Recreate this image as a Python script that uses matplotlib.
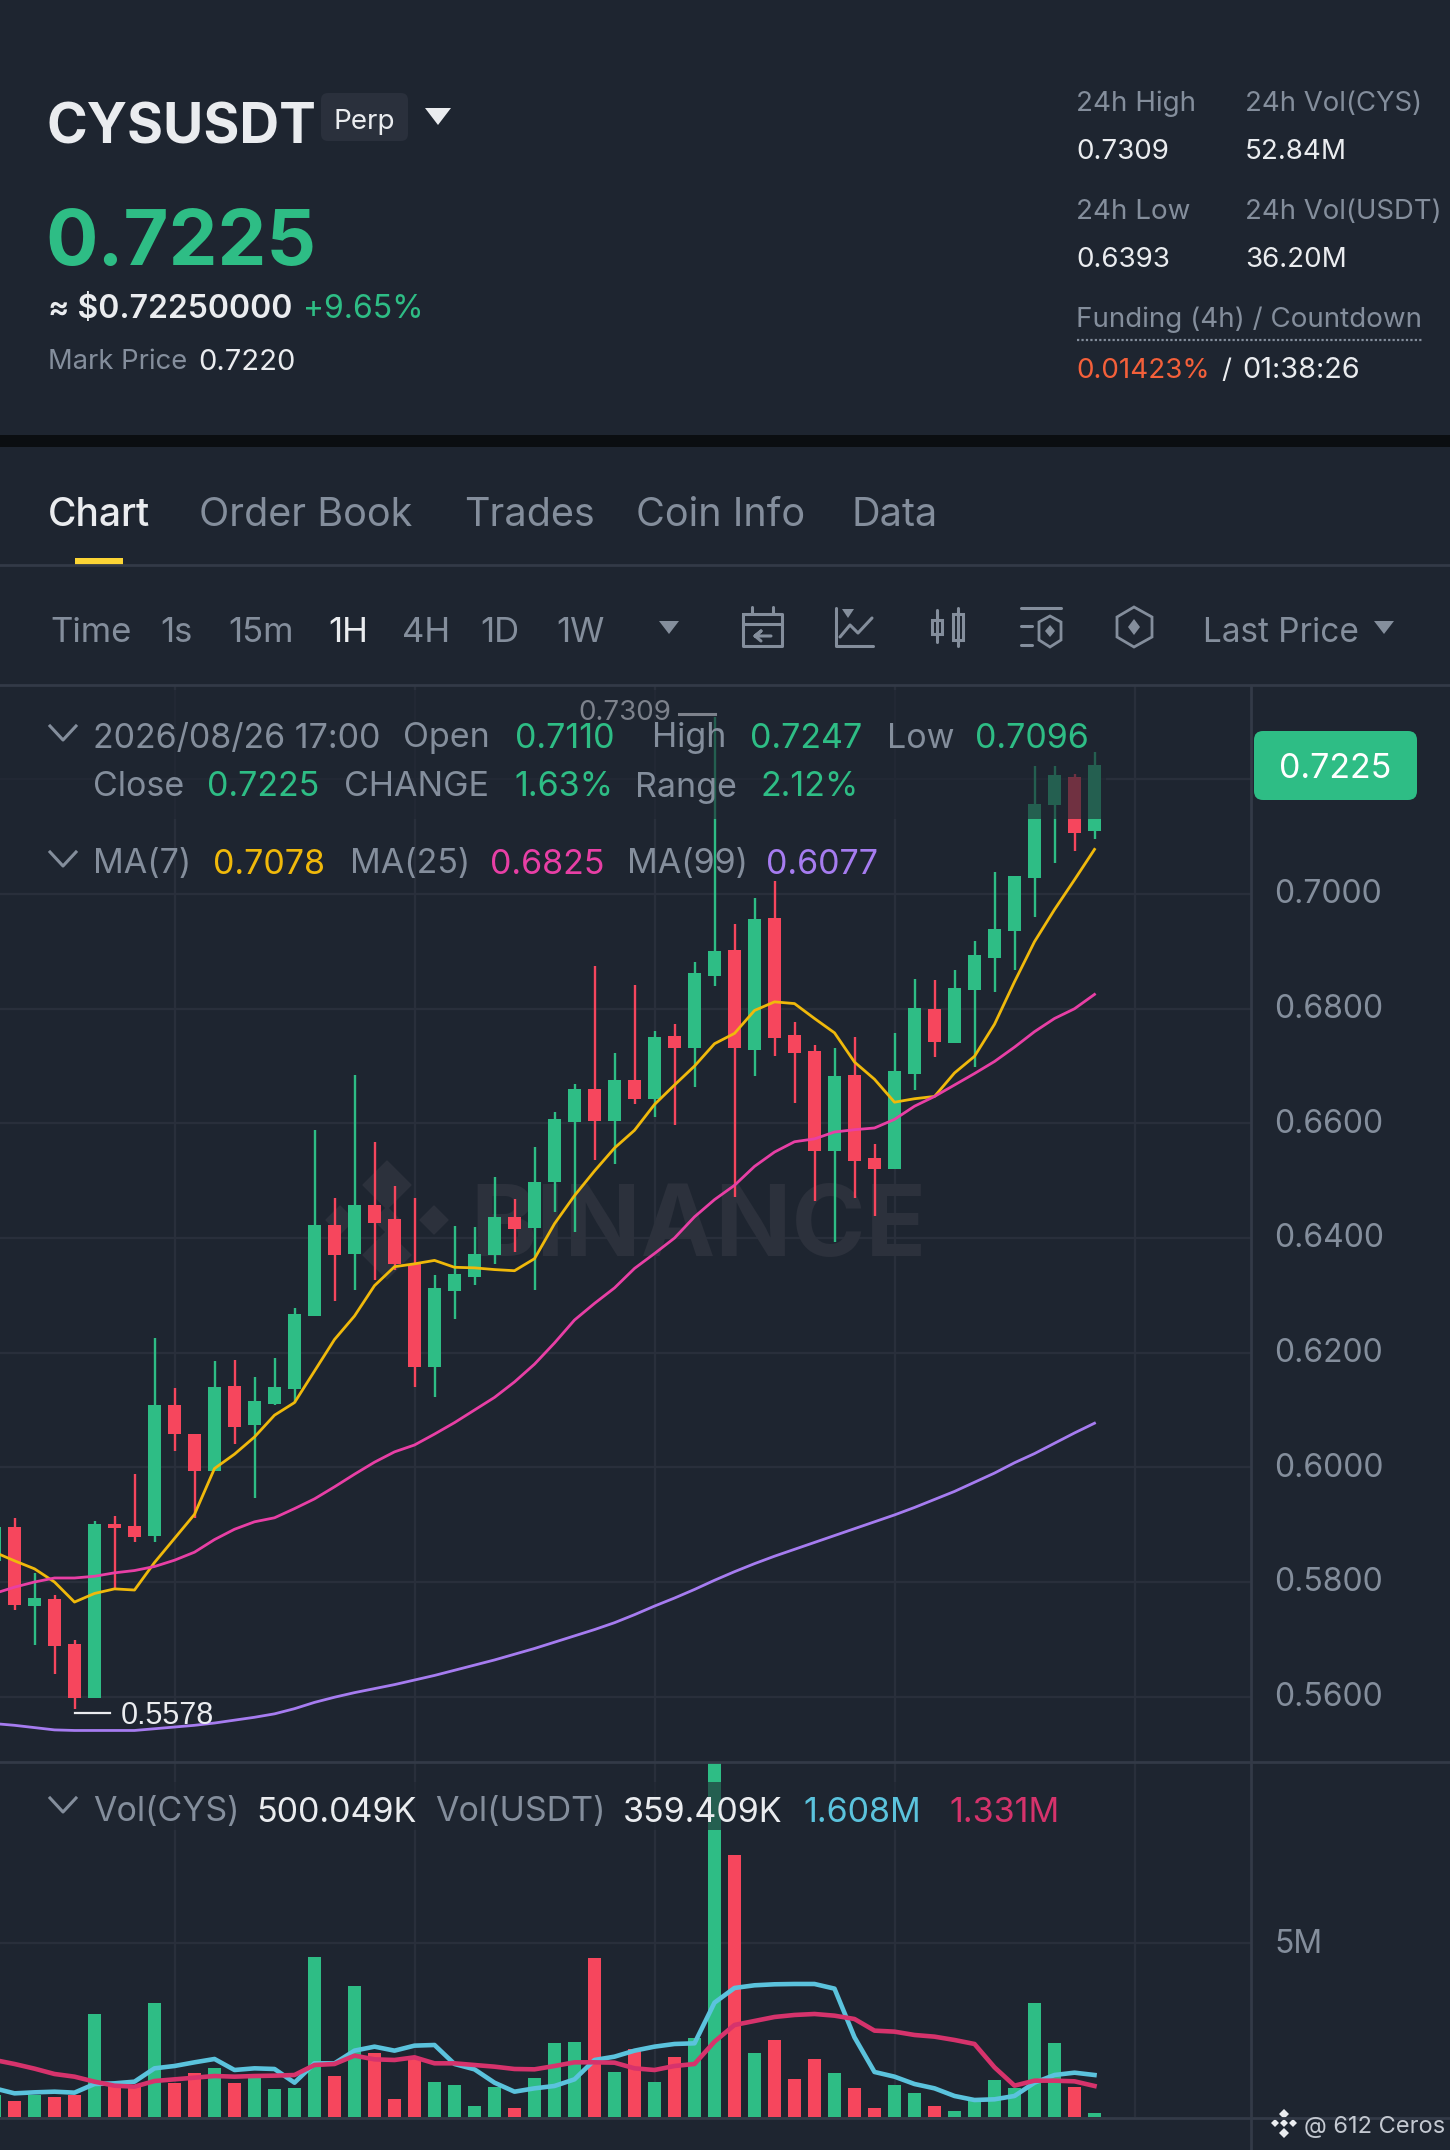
import numpy as np
import matplotlib
matplotlib.use("Agg")
import matplotlib.pyplot as plt
from matplotlib.patches import Polygon, Rectangle, FancyBboxPatch
from matplotlib.transforms import ScaledTranslation

plt.rcParams['font.family'] = ['Inter', 'DejaVu Sans']

# candles, oldest first (the first one is cut by the left edge)
opens = [.5837, .5896, .5758, .5770, .5692, .5597, .5902, .5898, .5880, .6108, .6059, .5993, .6142, .6073,
         .6111, .6137, .6264, .6422, .6372, .6458, .6433, .6354, .6175, .6308, .6332, .6371, .6436, .6417,
         .6497, .6602, .6660, .6605, .6676, .6643, .6753, .6732, .6857, .6903, .6728, .6958, .6754, .6727,
         .6552, .6684, .6540, .6521, .6686, .6799, .6741, .6832, .6889, .6936, .7028, .7155, .7205, .7110]
closes = [.5896, .5760, .5772, .5688, .5597, .5901, .5894, .5878, .6108, .6058, .5994, .6141, .6071, .6115,
          .6141, .6268, .6422, .6371, .6458, .6427, .6354, .6175, .6312, .6338, .6373, .6436, .6415, .6498,
          .6607, .6660, .6605, .6675, .6642, .6751, .6732, .6863, .6901, .6732, .6957, .6749, .6723, .6552,
          .6683, .6535, .6521, .6691, .6801, .6742, .6837, .6893, .6939, .7032, .7157, .7207, .7107, .7225]
highs = [.5898, .5911, .5815, .5777, .5699, .5906, .5916, .5988, .6225, .6138, .6059, .6185, .6187, .6157,
         .6190, .6278, .6589, .6470, .6684, .6568, .6490, .6469, .6335, .6421, .6419, .6506, .6468, .6558,
         .6620, .6668, .6875, .6722, .6841, .6761, .6773, .6881, .7309, .6948, .6993, .7022, .6777, .6737,
         .6731, .6750, .6564, .6757, .6852, .6850, .6868, .6918, .7038, .7032, .7224, .7223, .7209, .7247]
lows = [.5834, .5752, .5690, .5639, .5578, .5597, .5788, .5870, .5870, .6028, .5911, .5993, .6040, .5946,
        .6109, .6113, .6264, .6290, .6310, .6327, .6345, .6140, .6122, .6258, .6318, .6354, .6376, .6310,
        .6445, .6411, .6536, .6530, .6633, .6611, .6597, .6663, .6840, .6471, .6683, .6718, .6635, .6465,
        .6393, .6469, .6439, .6521, .6658, .6715, .6741, .6699, .6829, .6867, .6960, .7055, .7075, .7096]

ma7 = [.5852, .5837, .5823, .5800, .5765, .5780, .5788, .5786, .5834, .5876, .5918, .5998, .6023, .6053,
       .6091, .6113, .6168, .6223, .6264, .6317, .6350, .6355, .6361, .6349, .6348, .6345, .6343, .6364,
       .6425, .6474, .6517, .6557, .6588, .6633, .6667, .6700, .6739, .6757, .6797, .6812, .6809, .6783,
       .6758, .6707, .6677, .6637, .6643, .6647, .6688, .6717, .6773, .6847, .6917, .6973, .7025, .7078]
ma25 = [.5780, .5791, .5800, .5807, .5807, .5810, .5816, .5820, .5827, .5838, .5852, .5874, .5892, .5905,
        .5912, .5928, .5945, .5966, .5988, .6009, .6027, .6039, .6058, .6078, .6100, .6122, .6149, .6180,
        .6217, .6257, .6286, .6313, .6347, .6373, .6400, .6437, .6467, .6492, .6525, .6550, .6568, .6573,
        .6585, .6589, .6592, .6607, .6630, .6647, .6667, .6687, .6708, .6733, .6760, .6783, .6800, .6825]
ma99 = [.5553, .5550, .5546, .5542, .5541, .5541, .5541, .5541, .5544, .5547, .5550, .5554, .5559, .5564,
        .5570, .5579, .5590, .5599, .5607, .5614, .5621, .5629, .5637, .5646, .5655, .5664, .5674, .5684,
        .5695, .5706, .5717, .5729, .5743, .5758, .5772, .5787, .5803, .5818, .5832, .5845, .5857, .5869,
        .5881, .5893, .5905, .5917, .5930, .5944, .5958, .5974, .5990, .6008, .6024, .6042, .6060, .6077]

# volume in millions
volume = [.633, .451, .633, .585, .633, 2.956, .921, .873, 3.273, .988, 1.257, 1.401, .969, 1.113,
          .797, .845, 4.597, 1.180, 3.781, 1.852, .509, 1.737, 1.008, .912, .326, .864, .259, 1.132,
          2.121, 2.150, 4.568, 1.305, 1.950, 1.017, 1.718, 2.265, 10.30, 7.534, 1.843, 2.217, 1.084, 1.670,
          1.257, .845, .250, .921, .691, .307, .173, .537, 1.065, .845, 3.273, 2.130, .854, .106]
vol_ma_fast = [.825, .681, .710, .729, .701, .950, .969, 1.017, 1.401, 1.468, 1.574, 1.670, 1.353, 1.401,
               1.382, .988, 1.545, 1.545, 1.910, 2.025, 1.910, 2.054, 2.073, 1.526, 1.372, .988, .729, .825,
               .893, 1.084, 1.641, 1.737, 1.910, 2.025, 2.102, 2.121, 3.292, 3.714, 3.791, 3.820, 3.829, 3.829,
               3.695, 2.294, 1.296, 1.161, .950, .825, .605, .489, .509, .605, .988, 1.209, 1.276, 1.209]
vol_ma_slow = [1.641, 1.526, 1.392, 1.238, 1.161, 1.017, .902, .873, 1.036, 1.084, 1.132, 1.180, 1.161, 1.180,
               1.190, 1.209, 1.497, 1.526, 1.766, 1.660, 1.641, 1.718, 1.545, 1.545, 1.497, 1.449, 1.382, 1.372,
               1.468, 1.574, 1.574, 1.564, 1.401, 1.353, 1.468, 1.526, 2.169, 2.649, 2.764, 2.879, 2.937, 2.965,
               2.917, 2.821, 2.486, 2.457, 2.361, 2.313, 2.217, 2.102, 1.430, .902, 1.046, 1.046, 1.027, .893]

price_ticks = [.56, .58, .60, .62, .64, .66, .68, .70, .72]
price_tick_labels = ['0.5600', '0.5800', '0.6000', '0.6200', '0.6400', '0.6600', '0.6800', '0.7000', '']
time_ticks = [9, 21, 33, 45, 57]

BG = '#1E2530'
GRID = '#292F3B'
EDGE = '#333A47'
UP = '#2EBD85'
DOWN = '#F6465D'
GRAY = '#848E9C'
WHITE = '#EAECEF'

W, H = 1450, 2150
fig = plt.figure(figsize=(W / 100, H / 100), dpi=100, facecolor=BG)


def pane(top, bottom):
    a = fig.add_axes([0, 1 - bottom / H, 1252 / W, (bottom - top) / H], facecolor=BG)
    for s in a.spines.values():
        s.set_visible(False)
    a.yaxis.tick_right()
    a.tick_params(length=0, labelbottom=False, labelright=True, pad=16, labelsize=23, labelcolor=GRAY)
    a.set_xticks(time_ticks)
    a.set_xlim(0.275, 62.875)
    a.grid(True, color=GRID, lw=1.6)
    a.set_axisbelow(True)
    return a


def lift_labels(a):
    # right-hand labels sit a little above their gridline
    nudge = ScaledTranslation(0, 2 / 72, fig.dpi_scale_trans)
    for tick in a.yaxis.get_major_ticks():
        tick.label2.set_transform(tick.label2.get_transform() + nudge)


x = np.arange(len(opens))
up = np.array(closes) >= np.array(opens)
colors = [UP if u else DOWN for u in up]
width = 0.69

# price pane
ax = pane(686, 1762)
ax.set_ylim(0.5486, 0.7363)
ax.set_yticks(price_ticks, price_tick_labels)
lift_labels(ax)
ax.vlines(x, lows, highs, colors=colors, lw=1.7, zorder=3)
ax.bar(x, np.abs(np.array(closes) - np.array(opens)), width, np.minimum(opens, closes), color=colors, zorder=3)
ax.plot(x, ma7, color='#F0B90B', lw=2, zorder=4)
ax.plot(x, ma25, color='#E83FA5', lw=2, zorder=4)
ax.plot(x, ma99, color='#A67CF0', lw=2, zorder=4)

# low marker
ax.plot([x[4], x[4] + 1.75], [.5572, .5572], color=WHITE, lw=1.6, zorder=5)
ax.text(x[4] + 2.3, .5572, '0.5578', color=WHITE, fontsize=22, va='center_baseline', zorder=5,
        family=['Liberation Sans', 'DejaVu Sans'])

# volume pane
vax = pane(1763, 2117)
vax.set_ylim(0, 10.19)
vax.set_yticks([5], ['5M'])
lift_labels(vax)
vax.bar(x, volume, width, color=colors, zorder=3)
vax.plot(x, vol_ma_fast, color='#5BC3DD', lw=3.3, zorder=4)
vax.plot(x, vol_ma_slow, color='#D6336C', lw=3.3, zorder=4)

# overlay in image pixels for the page furniture
ui = fig.add_axes([0, 0, 1, 1], zorder=10)
ui.set_xlim(0, W)
ui.set_ylim(H, 0)
ui.axis('off')

# watermark sits behind the candles
ax.text(470, 1256, 'BINANCE', color='#2C313C', fontsize=72, fontweight='bold', transform=ui.transData, zorder=1)
for cx, cy, r in [(387, 1185, 24), (387, 1255, 24), (340, 1220, 14), (434, 1220, 14), (387, 1220, 13)]:
    ax.add_patch(Polygon([(cx - r, cy), (cx, cy - r), (cx + r, cy), (cx, cy + r)], color='#2C313C',
                         transform=ui.transData, zorder=1))


def label(px, py, s, color=GRAY, size=24.5, **kw):
    ui.text(px, py, s, color=color, fontsize=size, va='center_baseline', **kw)


def tri(cx, top, half, tall, color):
    ui.add_patch(Polygon([(cx - half, top), (cx + half, top), (cx, top + tall)], color=color, lw=0))


def chevron(cy):
    ui.plot([50, 63, 76], [cy - 7, cy + 7, cy - 7], color=GRAY, lw=2.2)


# legend veils dim whatever is underneath
ui.add_patch(Rectangle((0, 690), 1106, 129, color=BG, alpha=.62, lw=0))
ui.add_patch(Rectangle((0, 1782), 1106, 48, color=BG, alpha=.62, lw=0))

# high marker, on top of the veil
ui.plot([x[36] - 1.8, x[36]], [.7314, .7314], color='#7D828C', lw=2.2, transform=ax.transData)
ui.text(x[36] - 2.15, .7321, '0.7309', color='#7D828C', fontsize=20, ha='right', va='center_baseline',
        transform=ax.transData)

# header
label(47, 123, 'CYSUSDT', WHITE, 39.7, fontweight='bold')
ui.add_patch(FancyBboxPatch((325, 97), 79, 40, boxstyle='round,pad=4,rounding_size=7', color='#2A303C', lw=0))
label(334, 119, 'Perp', WHITE, 20)
tri(438, 108, 13, 17, WHITE)
label(45, 236, '0.7225', UP, 56, fontweight='bold')
label(48, 306, '≈ $0.72250000', WHITE, 23, fontweight='semibold')
label(303, 306, '+9.65%', UP, 23)
label(48, 359, 'Mark Price', GRAY, 19.7)
label(198, 359, '0.7220', WHITE, 21)

label(1076, 101, '24h High', GRAY, 20)
label(1245, 101, '24h Vol(CYS)', GRAY, 19.8)
label(1076, 149, '0.7309', WHITE, 20)
label(1245, 149, '52.84M', WHITE, 20)
label(1076, 209, '24h Low', GRAY, 20)
label(1245, 209, '24h Vol(USDT)', GRAY, 19.8)
label(1076, 257, '0.6393', WHITE, 20)
label(1245, 257, '36.20M', WHITE, 20)
label(1076, 317, 'Funding (4h) / Countdown', GRAY, 20)
ui.plot([1077, 1423], [340, 340], color=GRAY, lw=1.6, ls=(0, (1, 1)))
label(1076, 368, '0.01423%', '#F4603A', 20)
label(1221, 368, '/', WHITE, 20)
label(1242, 368, '01:38:26', WHITE, 20.8)

ui.add_patch(Rectangle((0, 435), W, 12, color='#0B0E11', lw=0))

# tabs
label(48, 512, 'Chart', WHITE, 28, fontweight='medium')
for px, s in [(199, 'Order Book'), (464, 'Trades'), (636, 'Coin Info'), (852, 'Data')]:
    label(px, 512, s, GRAY, 28.5)
ui.plot([0, W], [565, 565], color=EDGE, lw=2)
ui.add_patch(Rectangle((75, 558), 48, 8, color='#FCD535', lw=0))

# toolbar
for px, s in [(50, 'Time'), (160, '1s'), (228, '15m'), (402, '4H'), (480, '1D'), (556, '1W')]:
    label(px, 630, s, GRAY, 25)
label(328, 630, '1H', WHITE, 25)
tri(669, 621, 10, 13, GRAY)
label(1203, 630, 'Last Price', GRAY, 24)
tri(1384, 621, 10, 13, GRAY)
icon = dict(color=GRAY, lw=2.2, solid_capstyle='round')
ui.plot([743, 782, 782, 743, 743], [614, 614, 646, 646, 614], **icon)
ui.plot([743, 782], [624, 624], **icon)
ui.plot([752, 752], [607, 613], **icon)
ui.plot([773, 773], [607, 613], **icon)
ui.plot([771, 755, 761, 755, 761], [636, 636, 631, 636, 641], **icon)
ui.plot([836, 836, 873], [608, 646, 646], **icon)
ui.plot([840, 850, 858, 872], [637, 625, 633, 618], **icon)
tri(848, 609, 6, 9, GRAY)
ui.plot([937, 937], [610, 642], **icon)
ui.plot([958, 958], [608, 646], **icon)
ui.add_patch(Rectangle((932, 620), 10, 14, fc=BG, ec=GRAY, lw=2.2))
ui.add_patch(Rectangle((953, 614), 10, 26, fc=BG, ec=GRAY, lw=2.2))
ui.plot([1021, 1061], [608, 608], **icon)
ui.plot([1021, 1032], [626, 626], **icon)
ui.plot([1021, 1032], [645, 645], **icon)
ui.add_patch(Polygon([(1050, 616), (1061, 622), (1061, 640), (1050, 647), (1039, 640), (1039, 622)],
                     fc=BG, ec=GRAY, lw=2))
ui.add_patch(Polygon([(1050, 625), (1055, 631), (1050, 637), (1045, 631)], color=GRAY, lw=0))
ui.add_patch(Polygon([(1134, 607), (1152, 617), (1152, 637), (1134, 647), (1117, 637), (1117, 617)],
                     fc=BG, ec=GRAY, lw=2))
ui.add_patch(Polygon([(1134, 619), (1140, 627), (1134, 635), (1128, 627)], color=GRAY, lw=0))
ui.plot([0, W], [685, 685], color=EDGE, lw=2)

# chart legends
chevron(733)
label(93, 735, '2026/08/26 17:00')
label(403, 735, 'Open')
label(515, 735, '0.7110', UP)
label(652, 735, 'High')
label(750, 735, '0.7247', UP)
label(887, 735, 'Low')
label(975, 735, '0.7096', UP)
label(93, 784, 'Close')
label(207, 784, '0.7225', UP)
label(344, 784, 'CHANGE')
label(514, 784, '1.63%', UP)
label(635, 784, 'Range')
label(761, 784, '2.12%', UP)
chevron(859)
label(93, 861, 'MA(7)')
label(213, 861, '0.7078', '#F0B90B')
label(350, 861, 'MA(25)')
label(490, 861, '0.6825', '#E83FA5')
label(627, 861, 'MA(99)')
label(766, 861, '0.6077', '#A67CF0')
chevron(1805)
label(93, 1809, 'Vol(CYS)')
label(256, 1809, '500.049K', WHITE)
label(435, 1809, 'Vol(USDT)')
label(623, 1809, '359.409K', WHITE)
label(803, 1809, '1.608M', '#5BC3DD')
label(949, 1809, '1.331M', '#D6336C')

# price tag
ui.add_patch(FancyBboxPatch((1260, 737), 151, 57, boxstyle='round,pad=6,rounding_size=9', color=UP, lw=0))
ui.text(1335, 766, '0.7225', color='white', fontsize=24.5, ha='center', va='center_baseline')

# axis edges
ui.plot([1251, 1251], [686, H], color=EDGE, lw=2)
ui.plot([0, W], [1762, 1762], color=EDGE, lw=2)
ui.plot([0, W], [2118, 2118], color=EDGE, lw=2)

# credit
ui.add_patch(Rectangle((1262, 2106), 188, 44, color=BG, lw=0))
for cx, cy, r in [(1284, 2114, 5), (1284, 2133, 5), (1275, 2123, 4), (1293, 2123, 4), (1284, 2123, 4)]:
    ui.add_patch(Polygon([(cx - r, cy), (cx, cy - r), (cx + r, cy), (cx, cy + r)], color=WHITE, lw=0))
label(1304, 2125, '@ 612 Ceros', '#C4C9D1', 17)

fig.savefig('out.png', dpi=100, facecolor=BG)
